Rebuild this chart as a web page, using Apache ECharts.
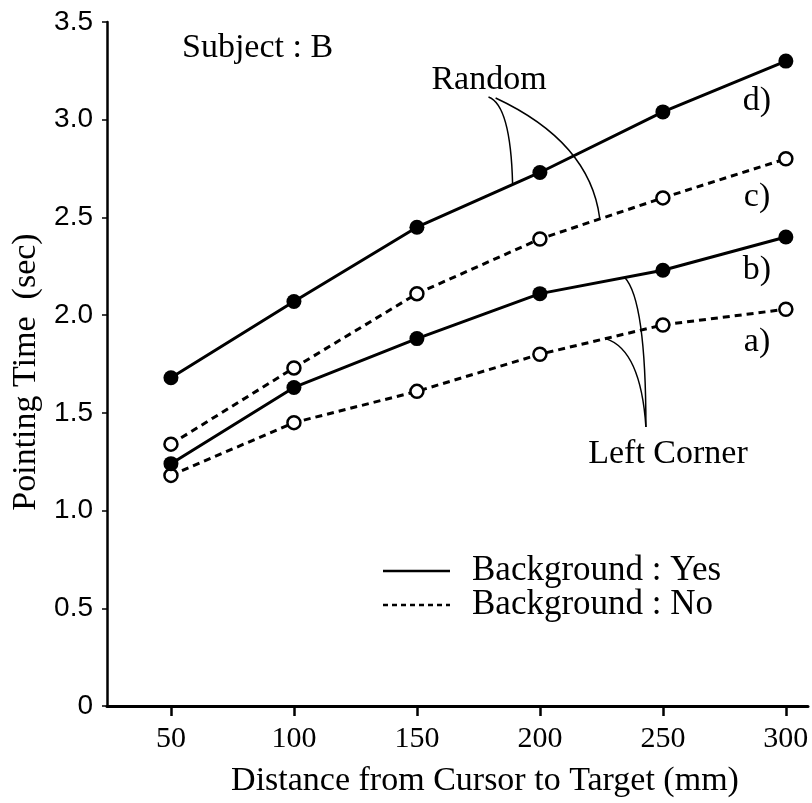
<!DOCTYPE html>
<html>
<head>
<meta charset="utf-8">
<script src="https://cdn.jsdelivr.net/npm/echarts@6/dist/echarts.min.js"></script>
<style>
  html, body { margin: 0; padding: 0; background: #fff; }
  #chart { width: 812px; height: 803px; }
</style>
</head>
<body>
<div id="chart"></div>
<script>
// distance from cursor to target (mm)
var distances = [50, 100, 150, 200, 250, 300];
var xTicks = [50, 100, 150, 200, 250, 300];
// pointing time (sec), subject B
var leftCornerNo  = [1.18, 1.45, 1.61, 1.80, 1.95, 2.03];   // a)
var leftCornerYes = [1.24, 1.63, 1.88, 2.11, 2.23, 2.40];   // b)
var randomNo      = [1.34, 1.73, 2.11, 2.39, 2.60, 2.80];   // c)
var randomYes     = [1.68, 2.07, 2.45, 2.73, 3.04, 3.30];   // d)

var serif = '"Liberation Serif", "DejaVu Serif", serif';
var sans = '"Liberation Sans", Arial, sans-serif';

function pairs(vals) {
    return distances.map(function (d, i) { return [d, vals[i]]; });
}

function lineSeries(name, vals, filled) {
    return {
        name: name,
        type: 'line',
        data: pairs(vals),
        symbol: 'circle',
        symbolSize: filled ? 15 : 13,
        showSymbol: true,
        lineStyle: {color: '#000', width: 3, type: filled ? 'solid' : [7, 5]},
        itemStyle: {
            color: filled ? '#000' : '#fff',
            borderColor: '#000',
            borderWidth: filled ? 0 : 2.5
        },
        z: filled ? 3 : 2,
        animation: false
    };
}

var chart = echarts.init(document.getElementById('chart'));

chart.setOption({
    animation: false,
    backgroundColor: '#fff',
    grid: {left: 107, right: 4, top: 22, bottom: 97},
    xAxis: {
        type: 'value',
        min: 24,
        max: 309,
        name: 'Distance from Cursor to Target (mm)',
        nameLocation: 'middle',
        nameGap: 58,
        nameTextStyle: {fontFamily: serif, fontSize: 34, color: '#000', padding: [0, 0, 0, 55]},
        splitLine: {show: false},
        axisLine: {lineStyle: {color: '#000', width: 3}},
        axisTick: {customValues: xTicks, length: 10, lineStyle: {color: '#000', width: 2.5}},
        axisLabel: {customValues: xTicks, margin: 18, fontFamily: serif, fontSize: 30, color: '#000'}
    },
    yAxis: {
        type: 'value',
        min: 0,
        max: 3.5,
        interval: 0.5,
        name: 'Pointing Time  (sec)',
        nameLocation: 'middle',
        nameGap: 62,
        nameTextStyle: {fontFamily: serif, fontSize: 34, color: '#000', padding: [0, 16, 0, 0]},
        splitLine: {show: false},
        axisLine: {lineStyle: {color: '#000', width: 2.5}},
        axisTick: {length: 5, lineStyle: {color: '#000', width: 1.5}},
        axisLabel: {
            margin: 14,
            fontFamily: sans,
            fontSize: 28,
            color: '#000',
            formatter: function (v) { return v === 0 ? '0' : v.toFixed(1); }
        }
    },
    series: [
        lineSeries('a', leftCornerNo, false),
        lineSeries('b', leftCornerYes, true),
        lineSeries('c', randomNo, false),
        lineSeries('d', randomYes, true)
    ]
});

// leader curves, in data coordinates: start, control, end
var leaders = [
    [[179.1, 3.116], [188.1, 3.075], [188.9, 2.671]],
    [[182.0, 3.111], [220.3, 2.886], [224.3, 2.497]],
    [[243.1, 1.428], [243.1, 2.077], [234.5, 2.193]],
    [[243.1, 1.428], [241.0, 1.822], [226.8, 1.880]]
];

var graphics = leaders.map(function (l) {
    var p0 = chart.convertToPixel({seriesIndex: 0}, l[0]);
    var c = chart.convertToPixel({seriesIndex: 0}, l[1]);
    var p1 = chart.convertToPixel({seriesIndex: 0}, l[2]);
    return {
        type: 'bezierCurve',
        shape: {x1: p0[0], y1: p0[1], cpx1: c[0], cpy1: c[1], x2: p1[0], y2: p1[1]},
        style: {stroke: '#000', lineWidth: 1.5, fill: null},
        z: 5
    };
});

function label(text, x, y, align, size) {
    return {
        type: 'text',
        x: x, y: y,
        style: {
            text: text,
            font: (size || 34) + 'px ' + serif,
            fill: '#000',
            align: align || 'left',
            verticalAlign: 'middle'
        },
        z: 6
    };
}

graphics.push(
    label('Subject : B', 182, 48),
    label('Random', 489, 80, 'center'),
    label('d)', 757, 101, 'center'),
    label('c)', 757, 197, 'center'),
    label('b)', 757, 270, 'center'),
    label('a)', 757, 342, 'center'),
    label('Left Corner', 668, 454, 'center'),
    {
        type: 'line',
        shape: {x1: 383, y1: 571, x2: 450, y2: 571},
        style: {stroke: '#000', lineWidth: 2.5}
    },
    {
        type: 'line',
        shape: {x1: 383, y1: 605, x2: 450, y2: 605},
        style: {stroke: '#000', lineWidth: 2.5, lineDash: [5, 4]}
    },
    label('Background : Yes', 472, 571, 'left', 35),
    label('Background : No', 472, 605, 'left', 35)
);

chart.setOption({graphic: graphics});
</script>
</body>
</html>
